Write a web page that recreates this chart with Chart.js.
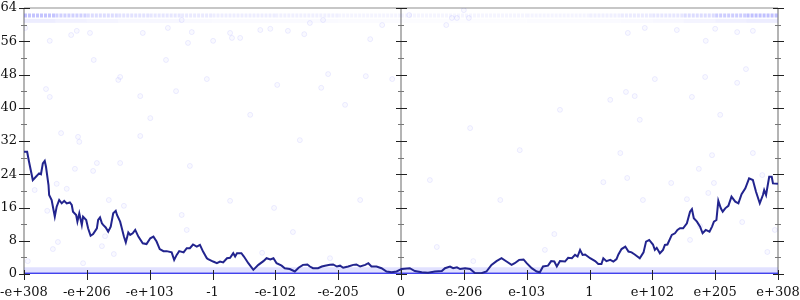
<!DOCTYPE html>
<html>
<head>
<meta charset="utf-8">
<script src="https://cdn.jsdelivr.net/npm/chart.js@4"></script>
<style>
  html, body { margin: 0; padding: 0; background: #fff; }
  #wrap { width: 800px; height: 300px; }
</style>
</head>
<body>
<div id="wrap"><canvas id="chart"></canvas></div>
<script>
// x positions are tick slots: -6 .. 6, labelled below
const xTicks = [-6, -5, -4, -3, -2, -1, 0, 1, 2, 3, 4, 5, 6];
const xLabels = ['-e+308', '-e+206', '-e+103', '-1', '-e-102', '-e-205', '0',
                 'e-206', 'e-103', '1', 'e+102', 'e+205', 'e+308'];

// main walk line
const lineX = [-6.00, -5.95, -5.92, -5.86, -5.81, -5.76, -5.73, -5.70, -5.67, -5.65, -5.61, -5.60,
  -5.56, -5.53, -5.51, -5.48, -5.44, -5.40, -5.36, -5.32, -5.27, -5.24, -5.22, -5.17, -5.15, -5.12,
  -5.08, -5.06, -5.01, -4.98, -4.94, -4.90, -4.84, -4.82, -4.79, -4.76, -4.74, -4.70, -4.66, -4.62,
  -4.58, -4.54, -4.52, -4.47, -4.45, -4.41, -4.38, -4.34, -4.31, -4.27, -4.23, -4.18, -4.11, -4.05,
  -3.99, -3.94, -3.89, -3.84, -3.78, -3.73, -3.65, -3.61, -3.57, -3.53, -3.46, -3.41, -3.36, -3.31,
  -3.25, -3.20, -3.15, -3.09, -3.07, -2.99, -2.93, -2.88, -2.83, -2.77, -2.72, -2.67, -2.64, -2.61,
  -2.54, -2.50, -2.43, -2.35, -2.27, -2.19, -2.14, -2.08, -2.03, -1.98, -1.90, -1.85, -1.77, -1.69,
  -1.63, -1.56, -1.49, -1.45, -1.40, -1.32, -1.26, -1.21, -1.13, -1.08, -1.02, -0.97, -0.92, -0.84,
  -0.76, -0.71, -0.65, -0.57, -0.52, -0.47, -0.39, -0.31, -0.23, -0.15, -0.07, -0.02,
  0.01, 0.14, 0.22, 0.33, 0.43, 0.54, 0.65, 0.70, 0.78, 0.83, 0.89, 0.94, 1.02, 1.10, 1.18, 1.28,
  1.36, 1.44, 1.52, 1.60, 1.68, 1.76, 1.81, 1.88, 1.95, 2.00, 2.08, 2.16, 2.21, 2.26, 2.34, 2.39,
  2.44, 2.48, 2.53, 2.61, 2.66, 2.72, 2.77, 2.81, 2.85, 2.89, 2.93, 3.01, 3.09, 3.14, 3.19, 3.22,
  3.27, 3.33, 3.38, 3.43, 3.46, 3.51, 3.57, 3.62, 3.67, 3.72, 3.80, 3.86, 3.90, 3.95, 4.01, 4.04,
  4.07, 4.12, 4.17, 4.20, 4.24, 4.31, 4.36, 4.40, 4.44, 4.49, 4.55, 4.60, 4.63, 4.66, 4.71, 4.76,
  4.80, 4.85, 4.91, 4.95, 4.98, 5.02, 5.05, 5.09, 5.12, 5.16, 5.21, 5.26, 5.32, 5.37, 5.42, 5.48,
  5.54, 5.60, 5.65, 5.71, 5.76, 5.78, 5.81, 5.86, 5.90, 5.92, 6.00];
const lineY = [29.4, 29.4, 27.0, 22.6, 23.4, 24.2, 24.0, 26.6, 27.2, 25.8, 21.4, 19.0,
  17.8, 15.4, 13.8, 16.2, 17.8, 17.0, 17.6, 17.0, 17.2, 16.6, 15.0, 14.2, 12.6, 14.6,
  11.8, 13.8, 13.0, 11.0, 9.2, 9.6, 11.0, 13.0, 13.6, 12.2, 11.8, 11.2, 10.2, 11.4,
  14.6, 15.2, 14.2, 12.6, 11.4, 9.0, 7.6, 10.0, 9.4, 9.8, 10.6, 9.0, 7.4, 7.2,
  8.6, 9.0, 7.8, 6.0, 5.5, 5.5, 5.2, 3.4, 4.6, 5.5, 5.2, 6.2, 6.2, 7.1,
  6.6, 7.0, 5.4, 3.8, 3.6, 3.0, 2.6, 3.0, 2.8, 3.8, 3.9, 5.0, 4.2, 5.0,
  5.0, 4.2, 2.6, 1.0, 2.2, 3.1, 3.8, 3.5, 3.8, 2.6, 2.0, 1.4, 1.2, 0.6,
  1.5, 2.2, 2.3, 1.8, 1.4, 1.4, 1.8, 2.0, 2.2, 2.3, 1.8, 2.0, 1.5, 1.8,
  2.2, 2.3, 1.8, 2.2, 2.6, 1.8, 1.8, 1.4, 0.6, 0.4, 0.6, 1.0,
  1.2, 1.4, 0.7, 0.4, 0.3, 0.6, 0.7, 1.4, 1.8, 1.4, 1.6, 1.2, 1.4, 1.2, 0.2, 0.2,
  0.6, 2.2, 3.1, 3.8, 3.0, 2.2, 2.6, 3.4, 3.5, 2.6, 1.4, 0.6, 0.4, 1.8, 2.0, 3.1,
  3.0, 1.8, 3.1, 3.0, 3.9, 3.8, 4.6, 4.2, 5.8, 4.6, 4.7, 3.8, 3.1, 2.4, 2.4, 3.8,
  3.1, 3.4, 3.0, 3.6, 4.7, 6.0, 6.6, 5.4, 5.2, 4.7, 3.8, 5.2, 7.8, 8.2, 7.1, 5.8,
  6.3, 5.0, 5.8, 7.0, 7.1, 9.4, 9.8, 10.6, 11.0, 11.0, 12.2, 15.0, 15.6, 13.4, 12.6, 11.4,
  9.8, 10.6, 10.2, 11.4, 12.6, 13.0, 17.6, 15.8, 15.0, 15.8, 16.4, 18.6, 17.4, 17.0, 19.2, 20.6,
  23.0, 22.6, 19.8, 17.0, 19.0, 20.2, 19.0, 23.4, 23.4, 21.8, 21.7];

// sparse faint samples
const dotX = [-5.59, -4.95, -4.89, -4.50, -4.47, -5.65, -5.59, -4.15, -3.74, -3.58, -3.39, -3.33,
  -4.11, -3.71, -5.25, -5.16, -5.98, -3.49, -2.99, -3.09, -1.97, -1.80, -1.54, -1.16, -1.27, -0.56,
  -0.49, -0.30, -0.14, -2.69, -2.56, -2.72, -2.24, -2.08, -1.45, -1.24, 4.85, 5.49, 4.04, 4.84,
  5.35, 3.58, 3.72, 4.63, 3.61, 3.88, 4.39, 5.60, 5.35, 5.00, 0.13, 0.72, 0.81, 0.89, 1.08, 1.00,
  -5.41, -5.14, -5.12, -4.15, -4.84, -4.90, -4.47, -5.19, -5.83, -5.48, -5.32, -4.65, -4.41, -5.63,
  -5.46, -5.54, -5.94, -4.71, -4.76, -4.57, -3.36, -3.49, -3.41, -5.06, -2.72, -2.02, -1.72, -2.21,
  -1.13, 0.57, 1.15, 2.44, 2.29, 3.49, 4.95, 5.60, 5.75, 3.22, 3.60, 3.85, 4.30, 4.74, 4.98, 4.55,
  4.89, 5.43, 5.95, 4.60, 5.83, 4.76, -3.99, -2.40, -0.89, 1.10, 2.53, 3.80, 5.08, -1.61, 1.89,
  0.46, 3.33, -0.65, 1.58];
const dotY = [56.1, 58.0, 51.5, 46.7, 47.4, 44.5, 42.6, 42.8, 51.5, 44.0, 55.6, 58.2,
  58.0, 59.2, 57.5, 58.5, 59.2, 61.1, 56.1, 46.9, 45.5, 58.5, 57.7, 48.1, 44.8, 47.6,
  56.5, 59.9, 46.9, 56.8, 56.8, 58.0, 58.7, 59.0, 60.4, 61.1, 56.1, 49.3, 46.9, 47.4,
  46.0, 43.8, 42.8, 42.6, 58.0, 59.2, 58.7, 58.5, 58.2, 59.0, 62.3, 59.9, 61.6, 61.6, 61.6, 63.5,
  33.9, 33.0, 31.8, 33.2, 26.7, 24.8, 26.7, 25.3, 20.2, 21.7, 20.5, 17.8, 16.4, 15.2,
  7.7, 6.0, 3.1, 9.1, 6.7, 4.8, 26.0, 14.2, 10.6, 2.6, 17.6, 15.9, 10.1, 5.1,
  3.8, 6.5, 3.1, 9.6, 5.8, 29.1, 28.6, 29.1, 23.8, 22.1, 23.1, 17.8, 21.9, 25.3, 21.9, 18.0,
  19.5, 12.5, 10.6, 8.2, 5.3, 11.5, 37.5, 38.3, 40.7, 35.1, 39.5, 37.1, 38.3, 32.2, 29.8,
  22.6, 41.9, 17.8, 17.8];

// dense band of samples near the top, with its density per stretch
const topBandX = [-6, -5.5, -5, -4.5, -4, -3.5, -3, -2, -1, 0, 1, 2, 3, 3.5, 4, 4.5, 5, 5.5, 6];
const topBandY = 62.2;
const topBandAlpha = [0.3, 0.24, 0.18, 0.15, 0.13, 0.11, 0.09, 0.08, 0.06, 0.05, 0.05, 0.06, 0.08,
  0.1, 0.13, 0.18, 0.26, 0.32];
const topHaloY = 60.9;

// dense samples at zero
const bottomBandX = [-6, 6];
const bottomY = 0;
const bottomHaloY = 1.0;

const pts = (xs, ys) => xs.map((x, i) => ({ x: x, y: Array.isArray(ys) ? ys[i] : ys }));

const axisPlugin = {
    id: 'axisFrame',
    beforeDatasetsDraw(chart) {
        const { ctx, chartArea: a, scales: { x } } = chart;
        ctx.save();
        ctx.strokeStyle = '#b4b4b4';
        ctx.lineWidth = 1.5;
        ctx.beginPath();
        ctx.moveTo(a.left, a.top);
        ctx.lineTo(a.right, a.top);
        ctx.stroke();
        ctx.lineWidth = 2;
        [a.left, x.getPixelForValue(0), a.right].forEach(px => {
            ctx.beginPath();
            ctx.moveTo(px, a.top);
            ctx.lineTo(px, a.bottom);
            ctx.stroke();
        });
        ctx.restore();
    },
    afterDatasetsDraw(chart) {
        const { ctx, chartArea: a, scales: { x, y } } = chart;
        ctx.save();
        ctx.lineWidth = 1;
        [a.left, x.getPixelForValue(0), a.right].forEach(px => {
            for (let v = 0; v <= 64; v += 4) {
                const py = Math.round(y.getPixelForValue(v)) + 0.5;
                const major = v % 8 === 0;
                ctx.strokeStyle = major ? '#222' : '#777';
                ctx.beginPath();
                ctx.moveTo(px - (major ? 5 : 3), py);
                ctx.lineTo(px + (major ? 6 : 3), py);
                ctx.stroke();
            }
        });
        ctx.strokeStyle = '#222';
        xTicks.forEach(t => {
            const px = Math.round(x.getPixelForValue(t)) + 0.5;
            ctx.beginPath();
            ctx.moveTo(px, a.bottom - 4);
            ctx.lineTo(px, a.bottom + 6);
            ctx.stroke();
        });
        ctx.restore();
    }
};

const ctx = document.getElementById('chart').getContext('2d');
new Chart(ctx, {
    type: 'scatter',
    data: {
        datasets: [
            {
                data: pts(lineX, lineY),
                showLine: true,
                borderColor: '#22248e',
                borderWidth: 2,
                pointRadius: 0,
                order: 0
            },
            {
                data: pts(bottomBandX, bottomY),
                showLine: true,
                borderColor: 'rgba(45, 45, 235, 0.9)',
                borderWidth: 3,
                pointRadius: 0,
                order: 1
            },
            {
                data: pts(bottomBandX, bottomHaloY),
                showLine: true,
                borderColor: 'rgba(70, 70, 255, 0.16)',
                borderWidth: 5,
                pointRadius: 0,
                order: 2
            },
            {
                data: pts(topBandX, topBandY),
                showLine: true,
                borderWidth: 4,
                borderDash: [3, 1],
                pointRadius: 0,
                segment: {
                    borderColor: c => 'rgba(60, 60, 255, ' + topBandAlpha[c.p0DataIndex] + ')'
                },
                order: 3
            },
            {
                data: pts(topBandX, topHaloY),
                showLine: true,
                borderWidth: 4,
                pointRadius: 0,
                segment: {
                    borderColor: c => 'rgba(60, 60, 255, ' + (topBandAlpha[c.p0DataIndex] * 0.3) + ')'
                },
                order: 4
            },
            {
                data: pts(dotX, dotY),
                pointRadius: 2.5,
                pointBorderWidth: 1,
                pointBackgroundColor: 'rgba(0, 0, 255, 0.025)',
                pointBorderColor: 'rgba(0, 0, 255, 0.07)',
                order: 5
            }
        ]
    },
    options: {
        responsive: true,
        maintainAspectRatio: false,
        animation: false,
        layout: { padding: { top: 8, right: 22, bottom: 0, left: 0 } },
        plugins: {
            legend: { display: false },
            tooltip: { enabled: false }
        },
        scales: {
            x: {
                type: 'linear',
                min: -6,
                max: 6,
                afterBuildTicks: scale => {
                    scale.ticks = xTicks.map(v => ({ value: v }));
                },
                afterFit: scale => {
                    scale.height = 26;
                    scale.paddingLeft = 0;
                    scale.paddingRight = 0;
                },
                grid: { display: false, drawTicks: false, tickLength: 0 },
                border: { display: false },
                ticks: {
                    autoSkip: false,
                    maxRotation: 0,
                    padding: 11,
                    color: '#111',
                    font: { family: 'DejaVu Serif', size: 13 },
                    callback: (value, index) => xLabels[index]
                }
            },
            y: {
                min: 0,
                max: 64,
                afterFit: scale => {
                    scale.width = 24;
                    scale.paddingTop = 0;
                    scale.paddingBottom = 0;
                },
                grid: { display: false, drawTicks: false, tickLength: 0 },
                border: { display: false },
                ticks: {
                    stepSize: 8,
                    padding: 7,
                    color: '#111',
                    font: { family: 'DejaVu Serif', size: 13 }
                }
            }
        }
    },
    plugins: [axisPlugin]
});
</script>
</body>
</html>
